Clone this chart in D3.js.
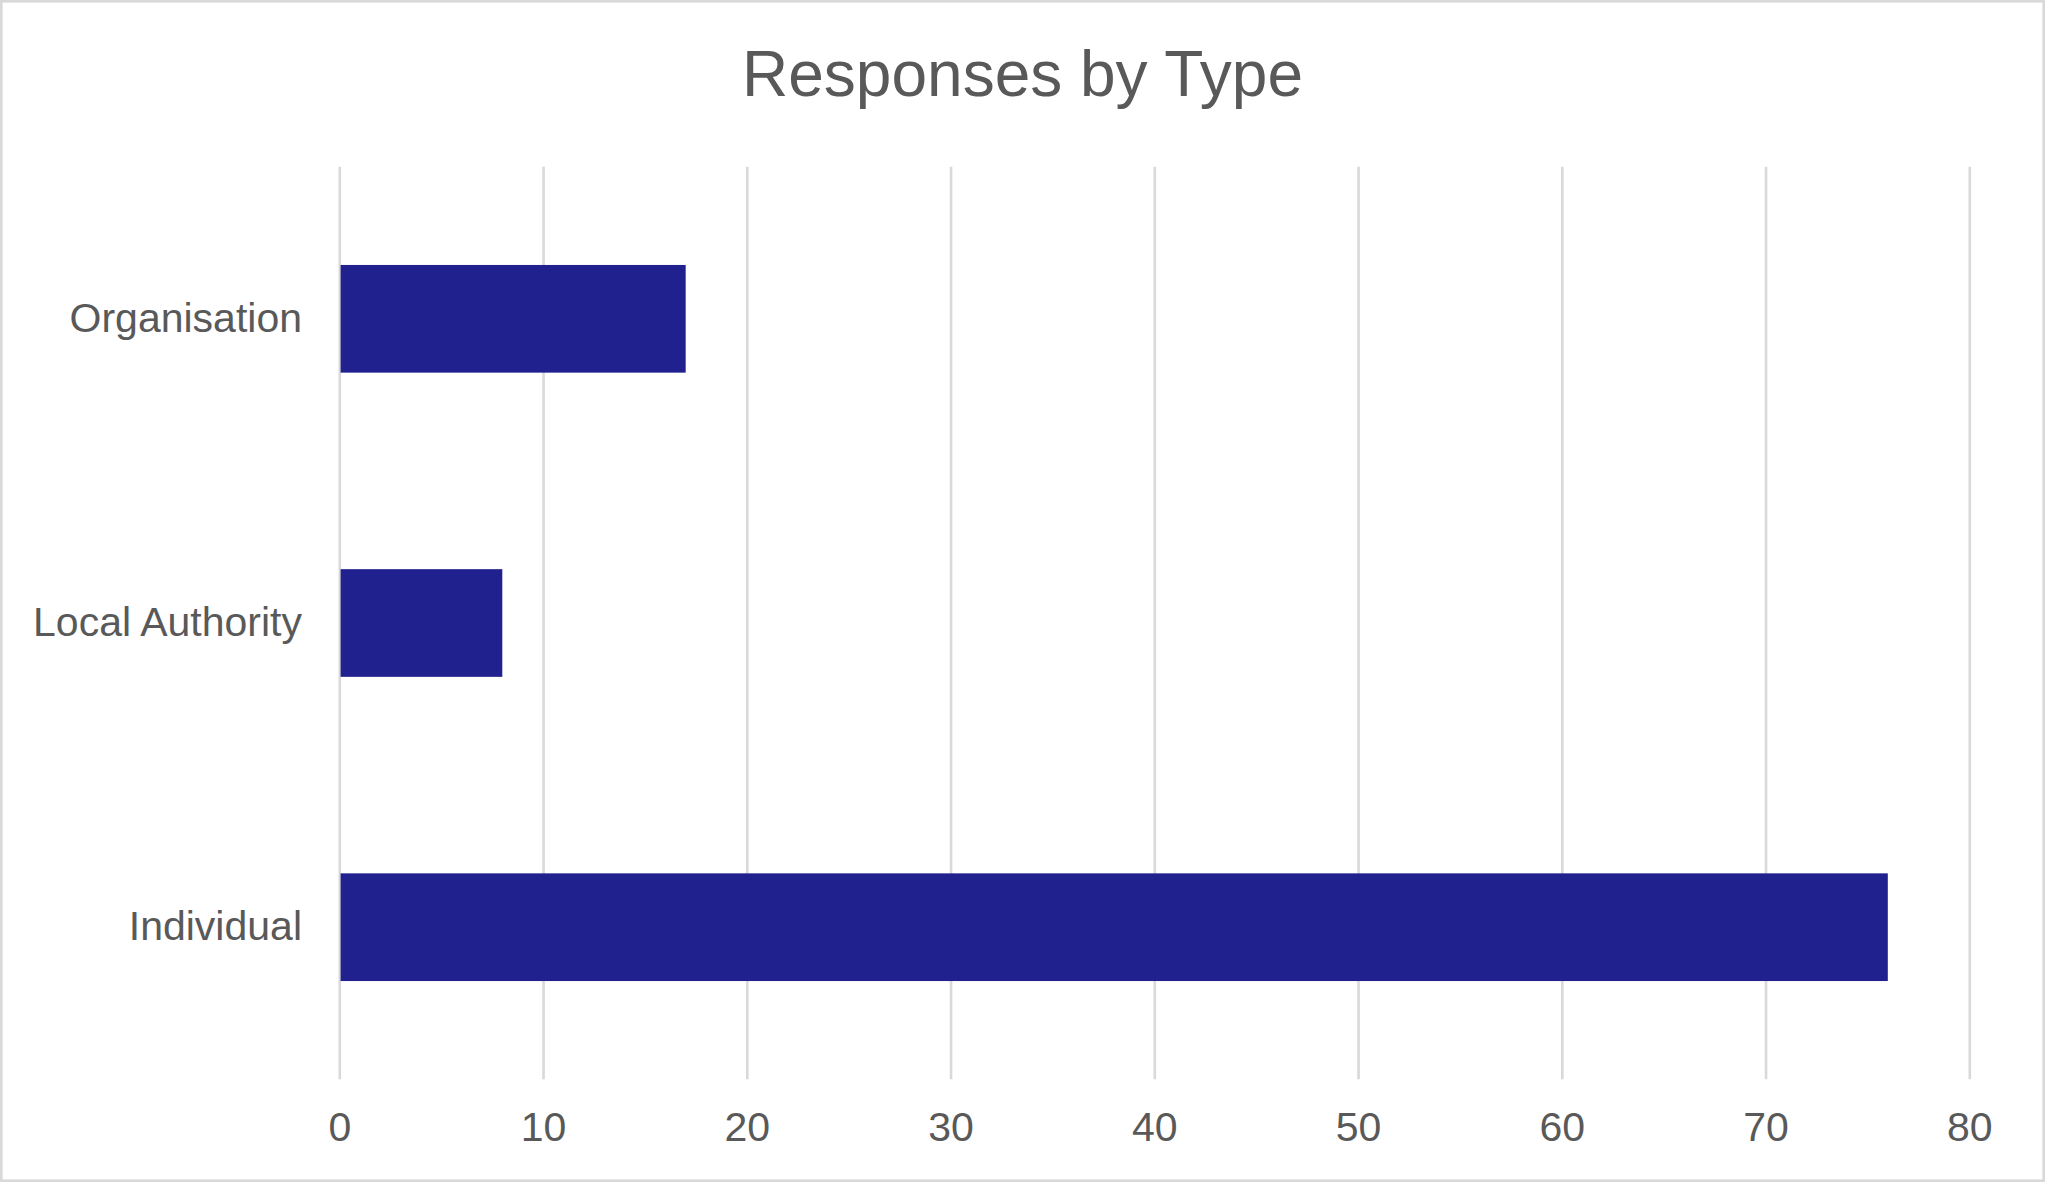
<!DOCTYPE html>
<html>
<head>
<meta charset="utf-8">
<script src="https://cdn.jsdelivr.net/npm/d3@7"></script>
<style>
  body { margin: 0; background: #fff; }
  text { font-family: "Liberation Sans", Arial, sans-serif; }
</style>
</head>
<body>
<div id="chart"></div>
<script>
// data
const categories = ['Organisation', 'Local Authority', 'Individual'];
const responses = [17, 8, 76];
const xTicks = [0, 10, 20, 30, 40, 50, 60, 70, 80];
const chartTitle = 'Responses by Type';

const width = 2045;
const height = 1182;
const margin = { top: 166.7, right: 75.7, bottom: 102.7, left: 339.3 };
const innerW = width - margin.left - margin.right;
const innerH = height - margin.top - margin.bottom;
const textColor = '#595959';
const gridColor = '#d9d9d9';
const barColor = '#20208f';

const svg = d3.select('#chart')
  .append('svg')
  .attr('width', width)
  .attr('height', height);

svg.append('rect')
  .attr('width', width)
  .attr('height', height)
  .attr('fill', '#fff');

// chart area border
svg.append('rect')
  .attr('x', 1.3)
  .attr('y', 1.3)
  .attr('width', width - 2.6)
  .attr('height', height - 2.6)
  .attr('fill', 'none')
  .attr('stroke', gridColor)
  .attr('stroke-width', 2.6);

svg.append('text')
  .attr('x', width / 2)
  .attr('y', 95.7)
  .attr('text-anchor', 'middle')
  .attr('fill', textColor)
  .style('font-size', '64px')
  .text(chartTitle);

const plot = svg.append('g')
  .attr('transform', `translate(${margin.left},${margin.top})`);

const x = d3.scaleLinear()
  .domain([xTicks[0], xTicks[xTicks.length - 1]])
  .range([0, innerW]);

const y = d3.scaleBand()
  .domain(categories)
  .range([0, innerH])
  .paddingInner(0.646)
  .paddingOuter(0.323);

// x axis with vertical gridlines
const xAxis = plot.append('g')
  .attr('class', 'x-axis')
  .attr('transform', `translate(0,${innerH})`)
  .call(d3.axisBottom(x).tickValues(xTicks).tickSize(-innerH).tickPadding(32.6))
  .call(g => g.select('.domain').remove());

xAxis.selectAll('.tick line')
  .attr('stroke', gridColor)
  .attr('stroke-width', 2.6);

xAxis.selectAll('.tick text')
  .attr('fill', textColor)
  .style('font-size', '41px')
  .style('font-family', '"Liberation Sans", Arial, sans-serif');

// bars
plot.append('g')
  .selectAll('rect')
  .data(categories.map((c, i) => ({ key: c, value: responses[i] })))
  .enter()
  .append('rect')
  .attr('x', x(0) + 1.3)
  .attr('y', d => y(d.key))
  .attr('width', d => x(d.value) - x(0) - 1.3)
  .attr('height', y.bandwidth())
  .attr('fill', barColor);

// category labels
const yAxis = plot.append('g')
  .attr('class', 'y-axis')
  .call(d3.axisLeft(y).tickSize(0).tickPadding(37.3))
  .call(g => g.select('.domain').remove());

yAxis.selectAll('.tick text')
  .attr('fill', textColor)
  .style('font-size', '41px')
  .style('font-family', '"Liberation Sans", Arial, sans-serif');
</script>
</body>
</html>
